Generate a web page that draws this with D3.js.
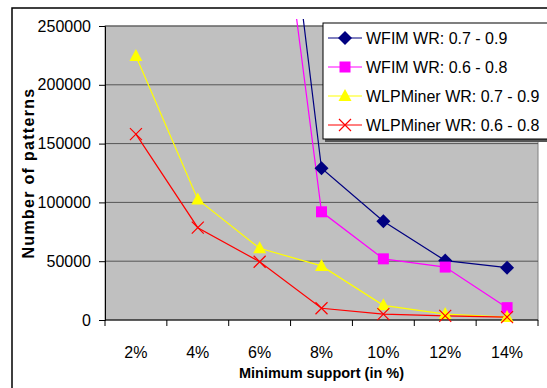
<!DOCTYPE html>
<html>
<head>
    <meta charset="utf-8" />
    <title>Patterns</title>
    <script src="https://cdn.jsdelivr.net/npm/d3@7"></script>
    <style>
        body { margin: 0; background: #fff; }
        text { font-family: "Liberation Sans", Arial, sans-serif; }
    </style>
</head>
<body>
    <script>

        // data
        var categories = ["2%", "4%", "6%", "8%", "10%", "12%", "14%"];
        var wfim79 = [null, null, 560000, 129000, 84000, 50500, 44500];
        var wfim68 = [null, null, 500000, 92000, 52000, 45000, 10500];
        var wlp79 = [224500, 102500, 61000, 46000, 12500, 5000, 2500];
        var wlp68 = [158000, 78500, 49500, 10000, 5000, 3500, 2500];
        var yTicks = [0, 50000, 100000, 150000, 200000, 250000];

        var series = [
            { name: "WFIM WR: 0.7 - 0.9", values: wfim79, color: "#000080", marker: "diamond" },
            { name: "WFIM WR: 0.6 - 0.8", values: wfim68, color: "#ff00ff", marker: "square" },
            { name: "WLPMiner WR: 0.7 - 0.9", values: wlp79, color: "#ffff00", marker: "triangle" },
            { name: "WLPMiner WR: 0.6 - 0.8", values: wlp68, color: "#ff0000", marker: "x" }
        ];

        var w = 547, h = 388;
        var pLeft = 105, pRight = 538, pTop = 26, pBottom = 320;

        var svg = d3.select("body").append("svg")
            .attr("width", w)
            .attr("height", h);

        // outer chart border
        svg.append("rect")
            .attr("x", 12).attr("y", 8)
            .attr("width", 560).attr("height", 400)
            .attr("fill", "#fff")
            .attr("stroke", "#000")
            .attr("stroke-width", 1.5);

        var x = d3.scaleBand().domain(categories).range([pLeft, pRight]);
        var y = d3.scaleLinear().domain([0, 250000]).range([pBottom, pTop]);

        // plot area
        svg.append("rect")
            .attr("x", pLeft).attr("y", pTop)
            .attr("width", pRight - pLeft).attr("height", pBottom - pTop)
            .attr("fill", "#c0c0c0")
            .attr("stroke", "#808080");

        // gridlines
        svg.append("g").selectAll("line")
            .data(yTicks.slice(1))
            .enter().append("line")
            .attr("x1", pLeft).attr("x2", pRight)
            .attr("y1", function (d) { return y(d); })
            .attr("y2", function (d) { return y(d); })
            .attr("stroke", "#555")
            .attr("stroke-width", 1);

        // y axis
        var yAxis = svg.append("g")
            .attr("transform", "translate(" + pLeft + ",0)")
            .call(d3.axisLeft(y).tickValues(yTicks).tickFormat(d3.format("d")).tickSize(6).tickPadding(8));
        yAxis.selectAll("text").attr("font-size", "16px").attr("fill", "#000").style("font-family", "Liberation Sans, Arial");
        yAxis.selectAll("line,path").attr("stroke", "#000");

        // x axis, ticks on band edges
        var xAxis = svg.append("g")
            .attr("transform", "translate(0," + pBottom + ")");
        xAxis.append("line")
            .attr("x1", pLeft).attr("x2", pRight)
            .attr("stroke", "#000");
        var edges = categories.map(function (c) { return x(c); }).concat([pRight]);
        xAxis.selectAll("line.tk")
            .data(edges)
            .enter().append("line")
            .attr("class", "tk")
            .attr("x1", function (d) { return d; })
            .attr("x2", function (d) { return d; })
            .attr("y1", 0).attr("y2", 6)
            .attr("stroke", "#000");
        xAxis.selectAll("text")
            .data(categories)
            .enter().append("text")
            .attr("x", function (d) { return x(d) + x.bandwidth() / 2; })
            .attr("y", 38)
            .attr("text-anchor", "middle")
            .attr("font-size", "16px")
            .text(function (d) { return d; });

        // axis titles
        svg.append("text")
            .attr("x", (pLeft + pRight) / 2)
            .attr("y", 378)
            .attr("text-anchor", "middle")
            .attr("font-size", "14.5px")
            .attr("font-weight", "bold")
            .text("Minimum support (in %)");

        svg.append("text")
            .attr("transform", "translate(34," + ((pTop + pBottom) / 2) + ") rotate(-90)")
            .attr("text-anchor", "middle")
            .attr("font-size", "16px")
            .attr("font-weight", "bold")
            .attr("letter-spacing", "1.3px")
            .text("Number of patterns");

        // clip lines a little above the plot
        svg.append("clipPath").attr("id", "clip")
            .append("rect")
            .attr("x", pLeft).attr("y", 19)
            .attr("width", pRight - pLeft).attr("height", pBottom - 19 + 10);

        var line = d3.line()
            .defined(function (d) { return d != null; })
            .x(function (d, i) { return x(categories[i]) + x.bandwidth() / 2; })
            .y(function (d) { return y(d); });

        function drawMarker(g, type, color, cx, cy) {
            if (type == "diamond") {
                g.append("path")
                    .attr("d", "M" + cx + "," + (cy - 7) + "L" + (cx + 7) + "," + cy + "L" + cx + "," + (cy + 7) + "L" + (cx - 7) + "," + cy + "Z")
                    .attr("fill", color);
            } else if (type == "square") {
                g.append("rect")
                    .attr("x", cx - 5.5).attr("y", cy - 5.5)
                    .attr("width", 11).attr("height", 11)
                    .attr("fill", color);
            } else if (type == "triangle") {
                g.append("path")
                    .attr("d", "M" + cx + "," + (cy - 7) + "L" + (cx + 6.5) + "," + (cy + 5) + "L" + (cx - 6.5) + "," + (cy + 5) + "Z")
                    .attr("fill", color);
            } else {
                g.append("path")
                    .attr("d", "M" + (cx - 6) + "," + (cy - 6) + "L" + (cx + 6) + "," + (cy + 6) + "M" + (cx + 6) + "," + (cy - 6) + "L" + (cx - 6) + "," + (cy + 6))
                    .attr("stroke", color)
                    .attr("stroke-width", 1.2)
                    .attr("fill", "none");
            }
        }

        var plot = svg.append("g").attr("clip-path", "url(#clip)");

        series.forEach(function (s) {
            plot.append("path")
                .datum(s.values)
                .attr("d", line)
                .attr("fill", "none")
                .attr("stroke", s.color)
                .attr("stroke-width", 1.2);
        });

        series.forEach(function (s) {
            var g = plot.append("g");
            s.values.forEach(function (v, i) {
                if (v == null || v > 250000) return;
                drawMarker(g, s.marker, s.color, x(categories[i]) + x.bandwidth() / 2, y(v));
            });
        });

        // legend
        var lg = svg.append("g").attr("transform", "translate(323,23)");
        lg.append("rect")
            .attr("x", 2).attr("y", 2)
            .attr("width", 240).attr("height", 117)
            .attr("fill", "#555");
        lg.append("rect")
            .attr("width", 240).attr("height", 116)
            .attr("fill", "#fff")
            .attr("stroke", "#000");

        series.forEach(function (s, i) {
            var ly = 15 + i * 29;
            lg.append("line")
                .attr("x1", 5).attr("x2", 39)
                .attr("y1", ly).attr("y2", ly)
                .attr("stroke", s.color)
                .attr("stroke-width", 1.2);
            drawMarker(lg, s.marker, s.color, 22, ly);
            lg.append("text")
                .attr("x", 43)
                .attr("y", ly + 6)
                .attr("font-size", "16px")
                .text(s.name);
        });

    </script>
</body>
</html>
